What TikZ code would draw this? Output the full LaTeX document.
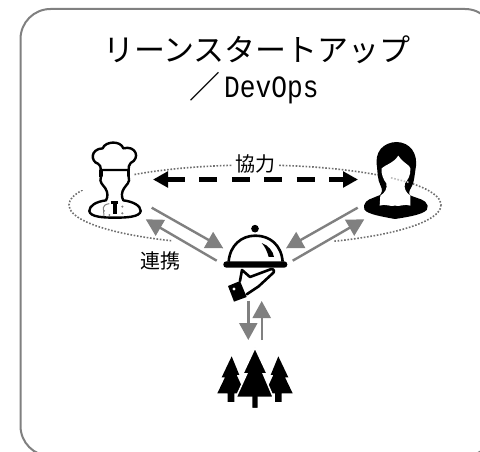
\documentclass[tikz,border=0pt]{standalone}
\usepackage{fontspec}
\setmainfont{Noto Sans CJK JP}
\newfontfamily\latinmono{Liberation Mono}
\usetikzlibrary{arrows.meta,calc}
\definecolor{framegray}{HTML}{808080}
\definecolor{arrowgray}{HTML}{808080}
\definecolor{dotgray}{HTML}{6F6F6F}
\tikzset{
  iconbox/.style={inner sep=0pt,minimum size=1pt},
  titletext/.style={inner sep=0pt,font=\fontsize{31}{31}\selectfont},
  smalltext/.style={inner sep=0pt,font=\fontsize{20}{20}\selectfont},
  covertext/.style={smalltext,fill=white,inner sep=3pt},
  flowarrow/.style={draw=arrowgray,line width=2.4pt,-{Triangle[length=17pt,width=18pt,fill=arrowgray]}},
  coopline/.style={line width=5pt,dash pattern=on 18pt off 14.4pt,{Triangle[length=15pt,width=15.5pt]}-{Triangle[length=15pt,width=15.5pt]}},
  iconline/.style={line width=2.4pt,line join=round,line cap=round},
  zoomed/.style={x=.33333pt,y=-.33333pt}
}
\begin{document}
\begin{tikzpicture}[x=1pt,y=-1pt]
\useasboundingbox (0,0) rectangle (480,452);
\clip (0,0) rectangle (480,452);
\fill[white] (0,0) rectangle (480,452);
% frame
\draw[framegray,line width=2pt,rounded corners=30pt] (20.5,9) rectangle (495,456);
% dotted ellipse
\draw[dotgray,line width=1.6pt,dash pattern=on 1.6pt off 1.7pt] (255,205) ellipse [x radius=186,y radius=40];
\fill[white] (78,130) rectangle (134,190);
\fill[white] (92,186) -- (150,186) -- (150,232) -- (92,220) -- cycle;
\fill[white] (172,225) rectangle (333,255);
% labels
\node[covertext] (coop) at (255,163.5) {協力};
\node[smalltext] (link) at (160.5,261) {連携};
% title
\node[titletext] (title1) at (257,50) {リーンスタートアップ};
\node[titletext,anchor=base west] (title2a) at (189,99) {／};
\node[inner sep=0pt,anchor=base west,font=\latinmono\fontsize{31}{31}\selectfont] (title2b) at (224,98) {\scalebox{.845}[1]{DevOps}};
% icon anchors
\node[iconbox] (chef) at (114,190) {};
\node[iconbox] (woman) at (401,190) {};
\node[iconbox] (dish) at (255,262) {};
\node[iconbox] (forest) at (255,370) {};
% chef
\begin{scope}[shift={(80,135)},zoomed]
  \draw[iconline,fill=white] (62,105) .. controls (62,94) and (60,90) .. (54,86)
    .. controls (32,80) and (30,42) .. (68,40)
    .. controls (76,18) and (122,16) .. (130,40)
    .. controls (168,30) and (182,70) .. (152,84)
    .. controls (146,90) and (146,96) .. (146,105) -- cycle;
  \draw[line width=3.4pt] (63,105) -- (63,125);
  \draw[line width=3.4pt] (146,105) -- (146,125);
  \draw[iconline,fill=white] (63,125) .. controls (56,142) and (70,150) .. (76,160)
    .. controls (84,172) and (84,186) .. (78,196)
    .. controls (48,200) and (28,212) .. (28,228)
    .. controls (30,246) and (70,248) .. (105,248)
    .. controls (140,248) and (180,246) .. (182,228)
    .. controls (182,212) and (160,200) .. (130,196)
    .. controls (124,186) and (124,172) .. (132,160)
    .. controls (138,150) and (152,142) .. (146,125);
  \draw[line width=1pt,gray] (72,244) -- (70,218) .. controls (70,212) and (76,208) .. (88,206);
  \fill[black] (94,198) rectangle (114,208);
  \fill[black] (98,205) rectangle (110,236);
  \fill[gray] (72,228) circle (3) (88,240) circle (3) (127,215) circle (3.5) (127,235) circle (3.5);
\end{scope}
% woman
\begin{scope}[shift={(355,135)},zoomed]
  \fill[black] (66,95) .. controls (58,50) and (85,22) .. (125,21)
    .. controls (165,22) and (190,55) .. (182,100)
    .. controls (178,125) and (178,140) .. (170,155)
    .. controls (160,170) and (160,180) .. (170,185)
    -- (70,185) .. controls (82,175) and (84,165) .. (76,150)
    .. controls (68,135) and (68,115) .. (66,95) -- cycle;
  \fill[black] (70,182) .. controls (50,192) and (32,192) .. (27,212)
    .. controls (22,230) and (40,238) .. (120,252)
    .. controls (200,240) and (222,230) .. (218,212)
    .. controls (212,192) and (190,192) .. (168,182) -- cycle;
  \fill[white] (80,100) .. controls (90,90) and (115,85) .. (130,62)
    .. controls (145,85) and (165,90) .. (166,100)
    .. controls (168,120) and (158,135) .. (150,145)
    .. controls (146,160) and (152,172) .. (166,182) -- (166,212)
    .. controls (150,205) and (135,216) .. (120,212)
    .. controls (105,216) and (90,205) .. (74,212) -- (76,182)
    .. controls (92,172) and (97,160) .. (94,145)
    .. controls (86,135) and (78,118) .. (80,100) -- cycle;
\end{scope}
\draw[black!25,line width=1.6pt,dash pattern=on 1.6pt off 1.7pt] (391,177.8) -- (409,182.5);
% dish
\begin{scope}[shift={(210,215)},zoomed]
  \fill[black] (135,41) circle (11.5);
  \draw[line width=2.6pt] (56,140) .. controls (60,90) and (95,62) .. (136,62)
    .. controls (180,62) and (214,90) .. (218,140);
  \fill[black,rounded corners=3pt] (40,139) rectangle (232,158);
  \fill[black] (155,84) .. controls (175,90) and (190,110) .. (192,126)
    -- (176,126) .. controls (172,110) and (165,95) .. (155,84) -- cycle;
  \draw[line width=2.6pt,line join=round,line cap=round] (90,198) -- (96,165) -- (120,186) -- (184,162)
    .. controls (194,162) and (194,172) .. (187,176)
    -- (146,214) -- (110,238);
  \fill[black] (54,213) -- (90,198) -- (110,246) -- (72,260) -- cycle;
  \fill[white] (72,222) circle (5);
\end{scope}
% trees
\begin{scope}[shift={(190,280)},zoomed]
  \fill[black] (125,229) -- (148,285) -- (140,285) -- (165,340) -- (133,340) -- (133,366) -- (113,366) -- (113,340) -- (82,340) -- (105,292) -- (95,292) -- cycle;
  \fill[black] (265,229) -- (295,292) -- (285,292) -- (308,340) -- (275,340) -- (275,366) -- (255,366) -- (255,340) -- (225,340) -- (250,285) -- (242,285) -- cycle;
  \draw[white,line width=1.5pt,fill=black] (195,203) -- (232,282) -- (220,282) -- (250,352) -- (205,352) -- (205,386) -- (185,386) -- (185,352) -- (138,352) -- (170,282) -- (158,282) -- cycle;
\end{scope}
% connectors
\draw[coopline] ($(chef)+(39,-10.5)$) -- ($(woman)+(-43,-10.5)$);
\draw[flowarrow] ($(chef)+(37.7,17.7)$) -- ($(dish)+(-31.7,-13.7)$);
\draw[flowarrow] ($(dish)+(-38.3,-1.3)$) -- ($(chef)+(31.7,29.3)$);
\draw[flowarrow] ($(woman)+(-43.3,17.7)$) -- ($(dish)+(31,-13.7)$);
\draw[flowarrow] ($(dish)+(37.7,-1.3)$) -- ($(woman)+(-36.7,29.3)$);
\draw[flowarrow] ($(dish)+(-6.7,38.7)$) -- ($(forest)+(-6.7,-30)$);
\draw[flowarrow] ($(forest)+(6.7,-30)$) -- ($(dish)+(6.7,39)$);
\end{tikzpicture}
\end{document}
